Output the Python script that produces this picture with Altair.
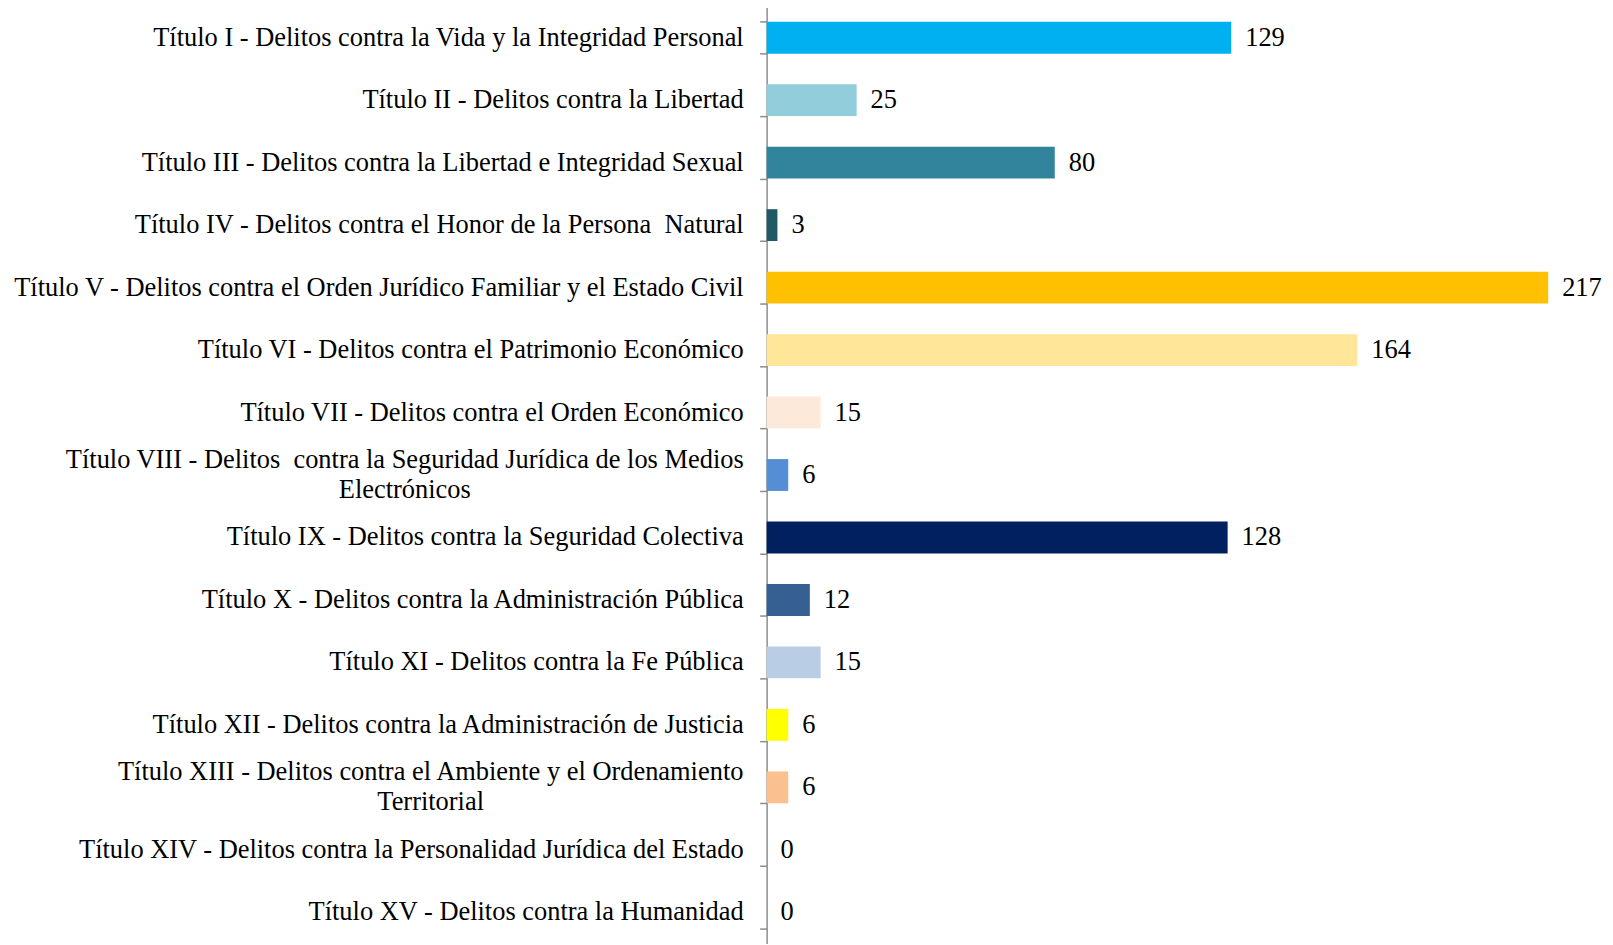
import altair as alt
import pandas as pd

categories = [
    "Título I - Delitos contra la Vida y la Integridad Personal",
    "Título II - Delitos contra la Libertad",
    "Título III - Delitos contra la Libertad e Integridad Sexual",
    "Título IV - Delitos contra el Honor de la Persona \u00a0Natural",
    "Título V - Delitos contra el Orden Jurídico Familiar y el Estado Civil",
    "Título VI - Delitos contra el Patrimonio Económico",
    "Título VII - Delitos contra el Orden Económico",
    "Título VIII - Delitos \u00a0contra la Seguridad Jurídica de los Medios\nElectrónicos",
    "Título IX - Delitos contra la Seguridad Colectiva",
    "Título X - Delitos contra la Administración Pública",
    "Título XI - Delitos contra la Fe Pública",
    "Título XII - Delitos contra la Administración de Justicia",
    "Título XIII - Delitos contra el Ambiente y el Ordenamiento\nTerritorial",
    "Título XIV - Delitos contra la Personalidad Jurídica del Estado",
    "Título XV - Delitos contra la Humanidad",
]
values = [129, 25, 80, 3, 217, 164, 15, 6, 128, 12, 15, 6, 6, 0, 0]
colors = [
    "#00B0F0", "#92CDDC", "#31849B", "#215967", "#FFC000",
    "#FFE699", "#FDE9D9", "#558ED5", "#002060", "#376092",
    "#B9CDE5", "#FFFF00", "#FAC090", "#FFFFFF", "#FFFFFF",
]

df = pd.DataFrame({"cat": categories, "value": values, "color": colors})
df["multi"] = df["cat"].str.contains("\n")

FONT = "Liberation Serif"
FS = 26.5

y = alt.Y(
    "cat:N",
    sort=categories,
    title=None,
    scale=alt.Scale(paddingInner=0.49, paddingOuter=0.245),
    axis=alt.Axis(
        labels=False,
        domain=True,
        domainColor="#8c8c8c",
        domainWidth=1.5,
        ticks=True,
        tickBand="extent",
        tickColor="#8c8c8c",
        tickWidth=1.5,
        tickSize=7,
        grid=False,
    ),
)
x = alt.X(
    "value:Q",
    scale=alt.Scale(domain=[0, 217], nice=False, zero=True),
    axis=None,
)

base = alt.Chart(df)

bars = base.mark_bar().encode(
    x=x, y=y, color=alt.Color("color:N", scale=None)
)

vals = base.mark_text(
    align="left", baseline="middle", dx=14, font=FONT, fontSize=FS, color="#000000"
).encode(x=x, y=y, text="value:Q")

single_labels = base.transform_filter("!datum.multi").mark_text(
    align="right", baseline="middle", font=FONT, fontSize=FS, color="#000000"
).encode(x=alt.value(-23), y=y, text="cat:N")

multi_viii = base.transform_filter(
    alt.datum.cat == categories[7]
).mark_text(
    align="center", baseline="middle", font=FONT, fontSize=FS, color="#000000",
    lineBreak="\n", lineHeight=30, dy=-15,
).encode(x=alt.value(-363), y=y, text="cat:N")

multi_xiii = base.transform_filter(
    alt.datum.cat == categories[12]
).mark_text(
    align="center", baseline="middle", font=FONT, fontSize=FS, color="#000000",
    lineBreak="\n", lineHeight=30, dy=-15,
).encode(x=alt.value(-337), y=y, text="cat:N")

chart = (
    alt.layer(bars, vals, single_labels, multi_viii, multi_xiii)
    .properties(
        width=784,
        height=940,
        autosize=alt.AutoSizeParams(type="none"),
        padding={"left": 761, "top": -3, "right": 57, "bottom": 0},
        background="white",
    )
    .configure_view(stroke=None, strokeWidth=0)
)

chart.save("out.html", embed_options={"renderer": "svg", "actions": False})
